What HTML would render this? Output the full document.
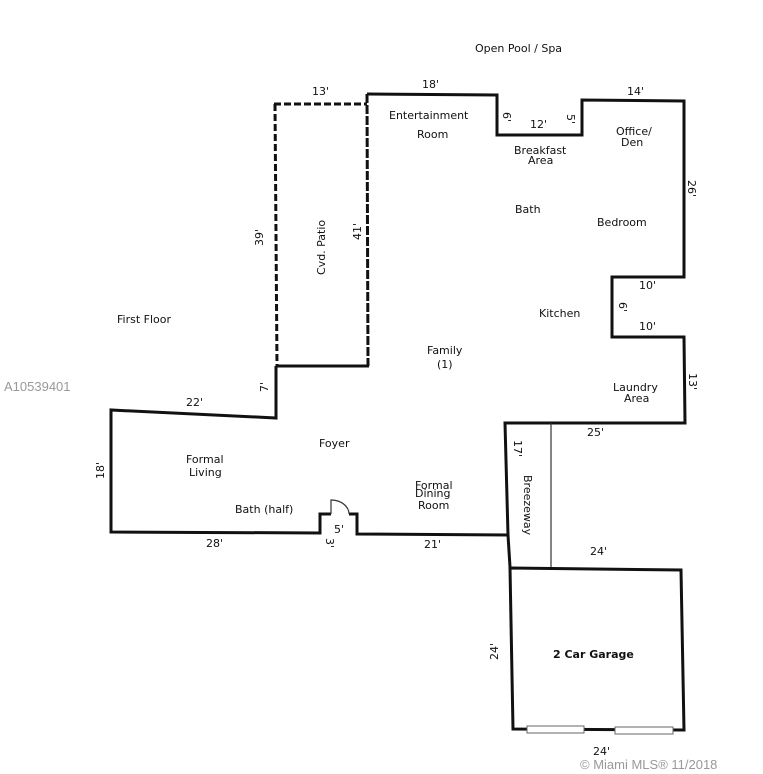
<!DOCTYPE html>
<html><head><style>
html,body{margin:0;padding:0;background:#fff;}
svg{display:block;}
text{font-family:"DejaVu Sans","Liberation Sans",sans-serif;font-size:11px;fill:#111;}
</style></head><body>
<svg width="763" height="774" viewBox="0 0 763 774" xmlns="http://www.w3.org/2000/svg">
<g fill="none" stroke="#111" stroke-width="3" stroke-linejoin="miter">
<!-- patio dashed -->
<path d="M274,104 L367,104" stroke-dasharray="7,3"/>
<path d="M275,104 L277,366" stroke-dasharray="7,3"/>
<path d="M367,94 L368,366" stroke-dasharray="9,2"/>
<path d="M277,366 L369,366"/>
<!-- main outline -->
<path d="M367,94 L497,95 L497,135 L582,135 L582,100 L684,101 L684,277 L612,277 L612,337 L684,337 L685,423 L505,423 L508,535 L357,534 L357,514 L349,514"/>
<path d="M331,514 L320,514 L320,533 L111,532 L111,410 L276,418 L276,366"/>
<path d="M508,535 L510,567"/>
<path d="M510,568 L681,570 L684,730 L513,729 Z"/>
</g>
<g fill="none" stroke="#333" stroke-width="1.2">
<path d="M331,514 L331,500 A18,14 0 0 1 349,514"/>
<path d="M551,423 L551,567"/>
</g>
<rect x="527" y="726" width="57" height="7" fill="#fff" stroke="#666" stroke-width="1"/>
<rect x="615" y="727" width="58" height="7" fill="#fff" stroke="#666" stroke-width="1"/>
<text x="475" y="52">Open Pool / Spa</text>
<text x="312" y="95">13'</text>
<text x="422" y="88">18'</text>
<text x="627" y="95">14'</text>
<text x="389" y="119">Entertainment</text>
<text x="417" y="138">Room</text>
<text x="530" y="128">12'</text>
<text x="514" y="154">Breakfast</text>
<text x="528" y="164">Area</text>
<text x="616" y="135">Office/</text>
<text x="621" y="146">Den</text>
<text x="515" y="213">Bath</text>
<text x="597" y="226">Bedroom</text>
<text x="639" y="289">10'</text>
<text x="639" y="330">10'</text>
<text x="539" y="317">Kitchen</text>
<text x="117" y="323">First Floor</text>
<text x="427" y="354">Family</text>
<text x="437" y="368">(1)</text>
<text x="613" y="391">Laundry</text>
<text x="624" y="402">Area</text>
<text x="186" y="406">22'</text>
<text x="587" y="436">25'</text>
<text x="319" y="447">Foyer</text>
<text x="186" y="463">Formal</text>
<text x="189" y="476">Living</text>
<text x="415" y="489">Formal</text>
<text x="415" y="497">Dining</text>
<text x="418" y="509">Room</text>
<text x="235" y="513">Bath (half)</text>
<text x="334" y="533">5'</text>
<text x="206" y="547">28'</text>
<text x="424" y="548">21'</text>
<text x="590" y="555">24'</text>
<text x="553" y="658" font-weight="bold">2 Car Garage</text>
<text x="593" y="755">24'</text>
<text x="580" y="769" style="font-family:'Liberation Sans',sans-serif;font-size:13px;fill:#999">© Miami MLS® 11/2018</text>
<text x="4" y="391" style="font-family:'Liberation Sans',sans-serif;font-size:13px;fill:#999">A10539401</text>
<g>
<text transform="translate(503,112) rotate(90)">6'</text>
<text transform="translate(567,114) rotate(90)">5'</text>
<text transform="translate(688,180) rotate(90)">26'</text>
<text transform="translate(619,302) rotate(90)">6'</text>
<text transform="translate(689,373) rotate(90)">13'</text>
<text transform="translate(263,246) rotate(-90)">39'</text>
<text transform="translate(361,240) rotate(-90)">41'</text>
<text transform="translate(325,275) rotate(-90)">Cvd. Patio</text>
<text transform="translate(268,392) rotate(-90)">7'</text>
<text transform="translate(104,479) rotate(-90)">18'</text>
<text transform="translate(514,440) rotate(90)">17'</text>
<text transform="translate(524,475) rotate(90)">Breezeway</text>
<text transform="translate(326,538) rotate(90)">3'</text>
<text transform="translate(498,660) rotate(-90)">24'</text>
</g>
</svg>
</body></html>
